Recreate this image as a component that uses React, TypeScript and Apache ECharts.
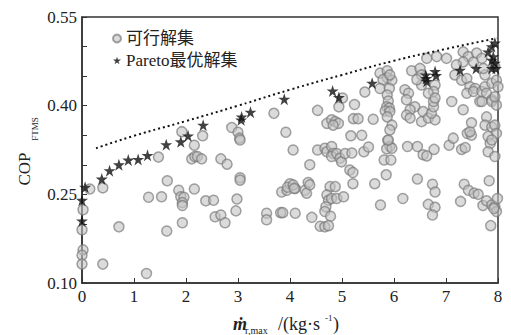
import React, { useEffect, useRef } from "react";
import * as echarts from "echarts";

// Feasible solutions: [mass flow (kg/s), COP]
const feasible: [number, number][] = [
  [0.02, 0.224], [0, 0.19], [0.02, 0.156], [0, 0.147], [0, 0.132],
  [0.15, 0.259], [0.4, 0.261], [0.71, 0.195], [0.4, 0.132], [1.24, 0.116],
  [1.28, 0.245], [1.53, 0.246], [1.47, 0.313], [1.64, 0.273], [1.63, 0.188],
  [1.86, 0.257], [1.9, 0.246], [1.96, 0.245], [1.93, 0.236], [1.93, 0.231], [1.93, 0.202],
  [1.92, 0.356], [2.16, 0.333], [2.32, 0.349],
  [2.11, 0.31], [2.17, 0.314], [2.22, 0.314], [2.3, 0.31],
  [2.16, 0.259], [2.38, 0.239], [2.53, 0.24],
  [2.56, 0.212], [2.67, 0.215], [2.75, 0.202],
  [2.67, 0.31], [2.79, 0.301],
  [2.88, 0.363], [3.0, 0.355], [3.03, 0.345], [3.04, 0.342],
  [3.04, 0.278], [3.04, 0.274], [2.98, 0.242], [2.96, 0.222],
  [3.55, 0.218], [3.55, 0.207], [3.82, 0.219], [3.86, 0.219], [4.1, 0.218],
  [3.69, 0.387], [3.92, 0.355], [4.06, 0.325],
  [3.84, 0.254], [3.94, 0.257], [4.0, 0.268], [3.95, 0.262], [4.1, 0.26],
  [4.06, 0.266], [4.08, 0.26], [4.29, 0.257], [4.32, 0.252], [4.35, 0.27], [4.38, 0.266],
  [4.42, 0.211], [4.38, 0.3],
  [4.53, 0.325], [4.67, 0.328], [4.71, 0.322], [4.8, 0.331], [4.83, 0.319], [4.8, 0.314],
  [4.9, 0.319], [4.96, 0.311], [4.99, 0.305], [5.06, 0.319], [5.19, 0.32],
  [5.15, 0.291], [5.21, 0.287], [5.21, 0.268],
  [4.77, 0.263], [4.87, 0.263], [4.71, 0.249], [4.74, 0.24], [4.8, 0.243], [4.9, 0.243],
  [5.03, 0.246], [4.69, 0.229], [4.67, 0.221], [4.78, 0.213],
  [4.58, 0.196], [4.67, 0.195], [4.74, 0.197],
  [5.17, 0.349], [5.38, 0.35], [5.42, 0.322], [5.51, 0.33],
  [5.63, 0.268], [5.74, 0.232],
  [5.88, 0.341], [5.92, 0.331], [5.86, 0.327], [5.96, 0.328], [5.81, 0.308], [5.94, 0.308], [5.85, 0.283],
  [4.53, 0.392], [4.71, 0.37], [4.8, 0.376], [4.87, 0.373], [4.93, 0.37], [4.83, 0.367],
  [4.94, 0.398], [5.01, 0.413], [5.24, 0.402], [5.44, 0.423],
  [5.22, 0.378], [5.31, 0.378], [5.6, 0.377],
  [5.73, 0.455], [5.87, 0.459], [5.87, 0.447], [5.96, 0.443], [5.79, 0.444], [5.92, 0.452],
  [5.73, 0.429], [5.91, 0.429], [5.87, 0.418], [5.89, 0.408], [5.86, 0.398], [5.91, 0.396],
  [5.83, 0.391], [5.92, 0.39], [5.87, 0.381], [5.96, 0.367], [5.92, 0.359], [5.89, 0.342],
  [6.21, 0.427], [6.28, 0.421], [6.24, 0.41], [6.4, 0.398], [6.31, 0.393], [6.24, 0.384], [6.31, 0.379],
  [6.34, 0.459], [6.5, 0.463], [6.53, 0.452], [6.53, 0.435], [6.44, 0.444],
  [6.56, 0.39], [6.53, 0.373], [6.66, 0.379], [6.79, 0.376], [6.72, 0.387], [6.76, 0.398], [6.76, 0.407],
  [6.79, 0.435], [6.76, 0.424], [6.66, 0.421], [6.79, 0.413],
  [6.63, 0.48], [6.82, 0.483], [7.01, 0.48],
  [6.26, 0.331], [6.45, 0.331], [6.56, 0.317], [6.63, 0.315], [6.77, 0.326],
  [6.45, 0.276], [6.74, 0.267], [6.79, 0.254], [6.17, 0.243],
  [6.66, 0.233], [6.79, 0.228], [6.74, 0.215],
  [7.06, 0.333], [7.14, 0.345], [7.3, 0.326], [7.37, 0.329],
  [7.41, 0.353], [7.49, 0.35], [7.46, 0.356],
  [7.11, 0.407], [7.33, 0.393], [7.49, 0.371],
  [7.33, 0.491], [7.43, 0.483], [7.53, 0.474], [7.33, 0.474], [7.2, 0.469], [7.17, 0.452],
  [7.3, 0.443], [7.4, 0.446], [7.46, 0.432], [7.56, 0.429], [7.4, 0.421], [7.53, 0.424],
  [7.69, 0.424], [7.75, 0.432], [7.75, 0.452], [7.72, 0.463], [7.88, 0.438], [7.78, 0.421], [7.88, 0.41],
  [7.59, 0.489], [7.69, 0.48], [7.65, 0.407],
  [7.69, 0.407], [7.88, 0.407], [7.97, 0.401], [7.78, 0.381], [7.75, 0.367], [7.88, 0.364],
  [7.94, 0.367], [7.97, 0.353], [7.81, 0.348], [7.85, 0.336], [7.88, 0.342], [7.81, 0.322],
  [7.94, 0.314], [7.83, 0.273],
  [7.94, 0.466], [7.97, 0.443], [8.0, 0.432], [7.94, 0.415],
  [7.35, 0.267], [7.43, 0.257], [7.54, 0.252], [7.62, 0.25], [7.28, 0.238],
  [7.71, 0.231], [7.78, 0.239], [7.88, 0.232], [7.94, 0.229], [7.99, 0.243], [7.97, 0.221],
  [7.92, 0.226], [7.86, 0.197],
];

// Pareto-optimal solutions
const pareto: [number, number][] = [
  [0, 0.205], [0, 0.24], [0.06, 0.262], [0.38, 0.276], [0.53, 0.29], [0.71, 0.3],
  [0.89, 0.308], [1.08, 0.309], [1.26, 0.316], [1.62, 0.334], [1.9, 0.339], [2.04, 0.349],
  [2.33, 0.367], [3.06, 0.376], [3.07, 0.381], [3.24, 0.389], [3.89, 0.411],
  [4.82, 0.425], [4.94, 0.414], [5.58, 0.438],
  [6.61, 0.452], [6.62, 0.446], [6.63, 0.441], [6.79, 0.458], [6.81, 0.451],
  [7.27, 0.46], [7.58, 0.463],
  [7.81, 0.491], [7.88, 0.5], [7.94, 0.506], [7.91, 0.483], [7.88, 0.477],
  [7.94, 0.472], [7.88, 0.463], [7.96, 0.463],
];

// Upper bound curve (dotted)
const boundary: [number, number][] = [
  [0.27, 0.328], [1, 0.349], [2, 0.374], [3, 0.4], [4, 0.427],
  [5, 0.452], [6, 0.476], [7, 0.496], [7.97, 0.514],
];

const xTicks = [0, 1, 2, 3, 4, 5, 6, 7, 8];
const yLabels = [0.1, 0.25, 0.4, 0.55];

const SERIF = "'Liberation Serif', 'DejaVu Serif', 'Noto Sans CJK SC', serif";
const STAR =
  "path://M50,0 L61.2,34.5 L97.6,34.5 L68.2,55.9 L79.4,90.5 L50,69.1 L20.6,90.5 L31.8,55.9 L2.4,34.5 L38.8,34.5 Z";

export default function App() {
  const ref = useRef<HTMLDivElement>(null);

  useEffect(() => {
    if (!ref.current) return;
    const chart = echarts.init(ref.current, null, { renderer: "svg" });

    const isMajor = (v: number) =>
      yLabels.some((t) => Math.abs(t - v) < 1e-6);

    const txt = (
      text: string,
      x: number,
      y: number,
      fontSize: number,
      extra: Record<string, unknown> = {},
      rotation = 0,
      align = "left"
    ) => ({
      type: "text",
      x,
      y,
      rotation,
      style: {
        text,
        fontFamily: SERIF,
        fontSize,
        fill: "#222",
        align,
        verticalAlign: "middle",
        ...extra,
      },
    });

    chart.setOption({
      animation: false,
      backgroundColor: "#ffffff",
      grid: {
        left: 82,
        right: 13,
        top: 17,
        bottom: 52,
        show: true,
        borderColor: "#333",
        borderWidth: 1.5,
      },
      legend: {
        orient: "vertical",
        left: 107,
        top: 25,
        itemWidth: 8,
        itemHeight: 8,
        itemGap: 5,
        textStyle: { fontFamily: SERIF, fontSize: 17, color: "#222" },
        data: ["可行解集", "Pareto最优解集"],
      },
      xAxis: {
        type: "value",
        min: xTicks[0],
        max: xTicks[xTicks.length - 1],
        interval: 1,
        axisLine: { lineStyle: { color: "#333", width: 1.5 } },
        axisTick: { inside: true, length: 5, lineStyle: { color: "#333" } },
        axisLabel: {
          margin: 5,
          fontFamily: SERIF,
          fontSize: 17,
          color: "#222",
        },
        splitLine: { show: false },
      },
      yAxis: {
        type: "value",
        min: 0.1,
        max: 0.55,
        interval: 0.05,
        axisLine: { show: true, lineStyle: { color: "#333", width: 1.5 } },
        axisTick: { inside: true, length: 5, lineStyle: { color: "#333" } },
        axisLabel: {
          margin: 5,
          fontFamily: SERIF,
          fontSize: 17,
          color: "#222",
          formatter: (v: number) => (isMajor(v) ? v.toFixed(2) : ""),
        },
        splitLine: { show: false },
      },
      graphic: [
        txt("COP", 24, 169, 17, {}, Math.PI / 2, "center"),
        txt("FTMS", 34.5, 129, 9, {}, Math.PI / 2, "center"),
        txt("ṁ", 233, 324, 18, { fontStyle: "italic", fontWeight: "bold" }),
        txt("r,max", 245, 330, 10),
        txt("/(kg·s", 278, 324, 18),
        txt("-1", 325, 318, 9),
        txt(")", 333, 324, 18),
      ],
      series: [
        {
          name: "可行解集",
          type: "scatter",
          data: feasible,
          symbol: "circle",
          symbolSize: 10,
          itemStyle: {
            color: "rgba(195,195,195,0.75)",
            borderColor: "rgba(120,120,120,0.85)",
            borderWidth: 1.5,
          },
          z: 2,
        },
        {
          name: "边界",
          type: "line",
          data: boundary,
          smooth: true,
          symbol: "none",
          lineStyle: { color: "#111", width: 2, type: [2, 3] },
          z: 3,
        },
        {
          name: "Pareto最优解集",
          type: "scatter",
          data: pareto,
          symbol: STAR,
          symbolSize: 12,
          itemStyle: { color: "#111" },
          z: 4,
        },
      ],
    });

    return () => chart.dispose();
  }, []);

  return (
    <div
      ref={ref}
      style={{ position: "fixed", left: 0, top: 0, width: 511, height: 335 }}
    />
  );
}
